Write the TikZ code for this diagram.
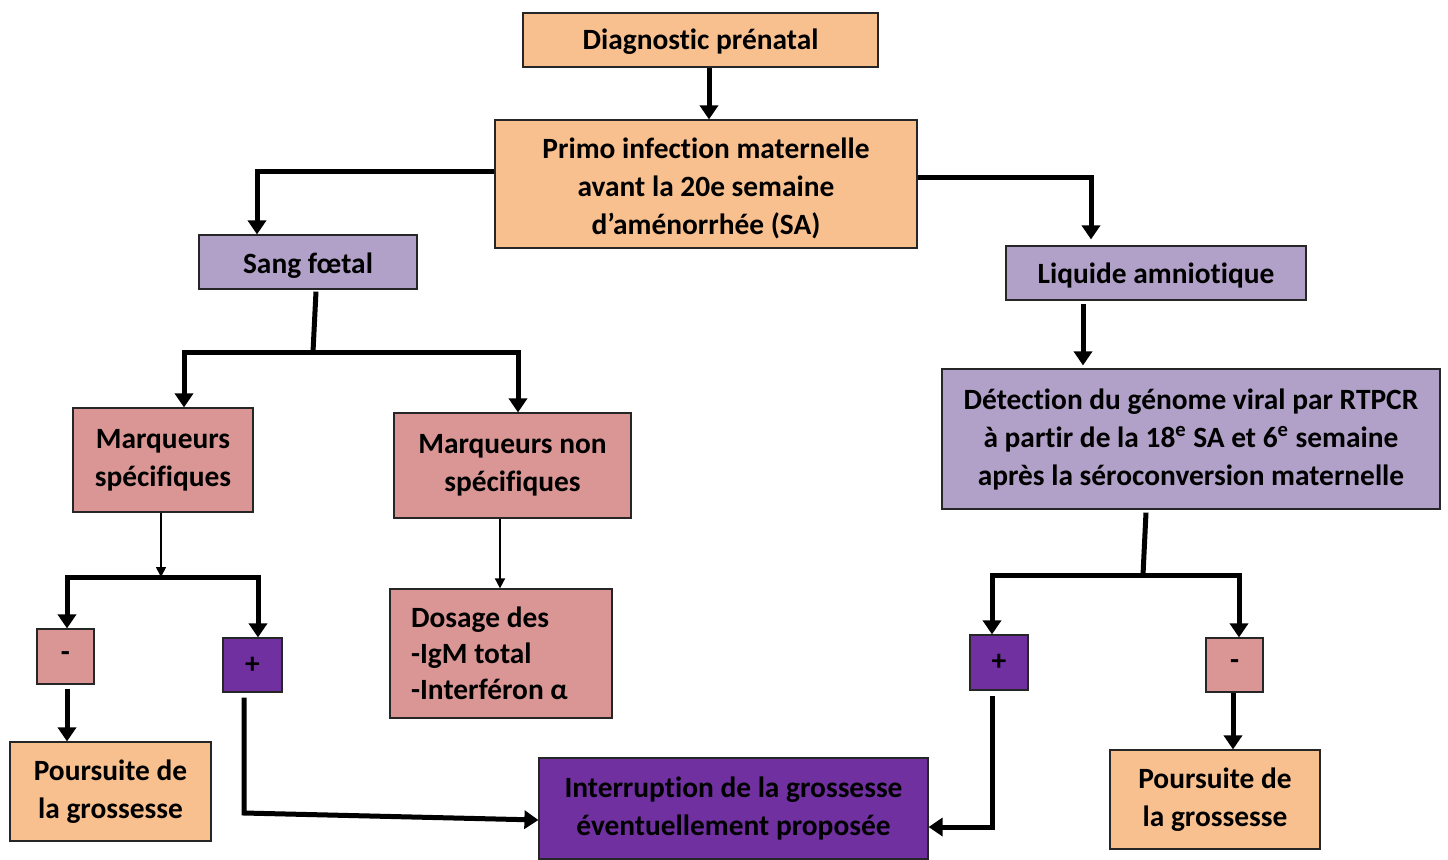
\documentclass[tikz,border=0pt]{standalone}
\usepackage{fontspec}
\setmainfont{Carlito}[Ligatures=NoCommon]
\usetikzlibrary{arrows.meta}
\definecolor{orangeb}{HTML}{F8BF8F}
\definecolor{lilac}{HTML}{B1A0C7}
\definecolor{rosy}{HTML}{D99694}
\definecolor{violetd}{HTML}{7030A0}
\newcommand{\lowr}[2]{\raisebox{-#1}[\height][\depth]{#2}}
\tikzset{
  box/.style={draw=black!85, line width=0.6pt, inner sep=0pt, align=center,
    font=\fontsize{14.7}{19}\selectfont\bfseries},
  obox/.style={box, fill=orangeb},
  lbox/.style={box, fill=lilac},
  rbox/.style={box, fill=rosy},
  vbox/.style={box, fill=violetd},
  arr/.style={line width=2.5pt, -{Triangle[width=9pt,length=7pt]}},
  bar/.style={line width=2.5pt},
  thinarr/.style={line width=0.8pt, -{Triangle[width=5pt,length=5pt]}},
}
\begin{document}
\begin{tikzpicture}[x=0.5pt,y=-0.5pt]
\useasboundingbox (0,0) rectangle (1448,859);
% nodes (centres in px)
\node[obox, minimum width=177.5pt, minimum height=27pt] (diag) at (700.5,40) {\lowr{1pt}{Diagnostic prénatal}};
\node[obox, minimum width=211pt, minimum height=64pt] (primo) at (706,184) {\lowr{2.5pt}{\begin{tabular}{@{}c@{}}Primo infection maternelle\\avant la 20e semaine\\d’aménorrhée (SA)\end{tabular}}};
\node[lbox, minimum width=109pt, minimum height=27pt] (sang) at (308,262) {\lowr{2pt}{Sang fœtal}};
\node[lbox, minimum width=150pt, minimum height=27pt] (liq) at (1156,273) {\lowr{1pt}{Liquide amniotique}};
\node[rbox, minimum width=90pt, minimum height=52pt] (ms) at (163,460) {Marqueurs\\spécifiques};
\node[rbox, minimum width=118.5pt, minimum height=52.5pt] (mns) at (512.5,465.5) {Marqueurs non\\spécifiques};
\node[lbox, minimum width=249pt, minimum height=70pt] (det) at (1191,439) {Détection du génome viral par RTPCR\\à partir de la 18\textsuperscript{e} SA et 6\textsuperscript{e} semaine\\après la séroconversion maternelle};
\node[rbox, minimum width=28.5pt, minimum height=27.5pt] (mL) at (65.5,656.5) {-};
\node[vbox, minimum width=29.5pt, minimum height=27pt] (pL) at (252.5,665) {+};
\node[rbox, minimum width=111pt, minimum height=64.5pt] (dos) at (501,653.5) {\lowr{1.5pt}{\renewcommand{\arraystretch}{0.95}\begin{tabular}{@{}l@{}}Dosage des\\-IgM total\\-Interféron α\end{tabular}}\hspace{11.5pt}};
\node[obox, minimum width=100.5pt, minimum height=49.5pt] (pourL) at (110.5,791.5) {Poursuite de\\la grossesse};
\node[vbox, minimum width=194.5pt, minimum height=50.5pt] (inter) at (733.5,808.5) {Interruption de la grossesse\\éventuellement proposée};
\node[vbox, minimum width=29pt, minimum height=27.5pt] (pR) at (999,662.5) {+};
\node[rbox, minimum width=28.5pt, minimum height=27pt] (mR) at (1234.5,665) {-};
\node[obox, minimum width=105pt, minimum height=49.5pt] (pourR) at (1215,799.5) {Poursuite de\\la grossesse};
% junctions
\coordinate (j1) at (313,352);
\coordinate (j2) at (161,577);
\coordinate (j3) at (1143,575);
\coordinate (c1) at (244,813);
\coordinate (c2) at (992,827);
% connectors
\draw[arr] ([xshift=4.25pt]diag.south) -- ([xshift=4.25pt]diag.south |- primo.north);
\draw[arr] ([yshift=6.5pt]primo.west) -| ([xshift=-25.5pt]sang.north);
\draw[arr] ([yshift=3.5pt]primo.east) -| ([xshift=-32.5pt,yshift=3pt]liq.north);
\draw[bar] ([xshift=4pt,yshift=-1pt]sang.south) -- (j1);
\draw[arr] (j1) -| ([xshift=10.5pt]ms.north);
\draw[arr] (j1) -| ([xshift=2.75pt]mns.north);
\draw[arr] ([xshift=-36.5pt,yshift=-1.5pt]liq.south) -- ([xshift=-36.5pt,yshift=1.5pt]liq.south |- det.north);
\draw[thinarr] ([xshift=-1pt]ms.south) -- (j2);
\draw[arr] (j2) -| ([xshift=0.75pt]mL.north);
\draw[arr] (j2) -| ([xshift=2.75pt]pL.north);
\draw[thinarr] ([xshift=-6.25pt]mns.south) -- ([xshift=-6.25pt]mns.south |- dos.north);
\draw[arr] ([xshift=0.75pt,yshift=-2pt]mL.south) -- ([xshift=0.75pt]mL.south |- pourL.north);
\draw[arr] ([xshift=-4.25pt,yshift=-2.5pt]pL.south) -- (c1) -- ([yshift=-5.75pt]inter.west);
\draw[bar] ([xshift=-22.5pt,yshift=-1.5pt]det.south) -- (j3);
\draw[arr] (j3) -| ([xshift=-3.5pt]pR.north);
\draw[arr] (j3) -| ([xshift=2.25pt]mR.north);
\draw[arr] ([xshift=-3.5pt,yshift=-2.5pt]pR.south) -- (c2) -- ([yshift=-9.25pt]inter.east);
\draw[arr] ([xshift=-0.75pt]mR.south) -- ([xshift=-0.75pt]mR.south |- pourR.north);
\end{tikzpicture}
\end{document}
